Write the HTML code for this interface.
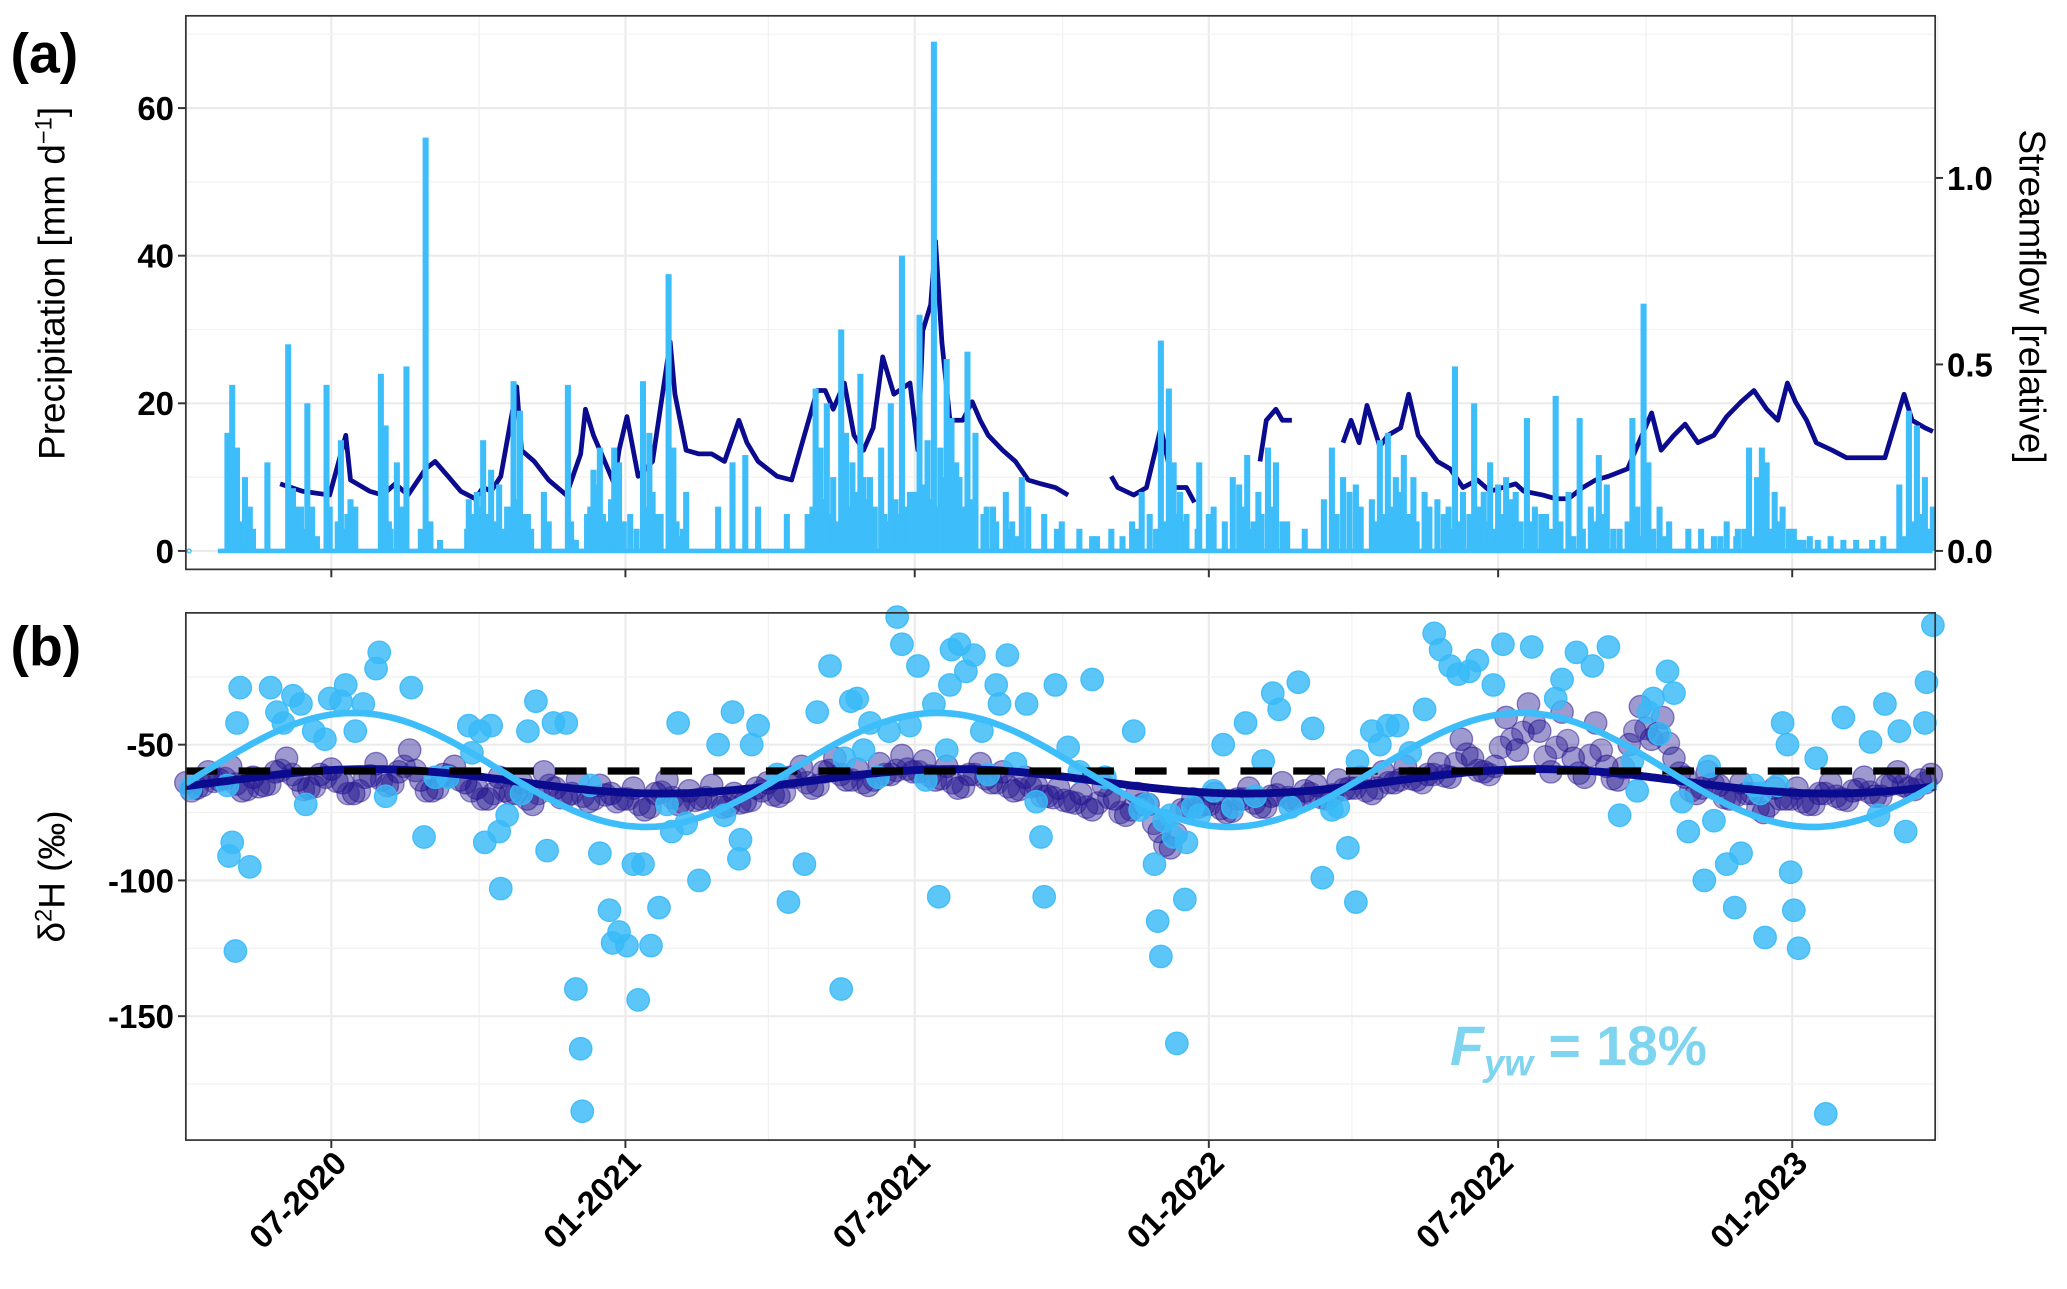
<!DOCTYPE html>
<html><head><meta charset="utf-8"><style>
html,body{margin:0;padding:0;background:#fff;}
svg{display:block;font-family:"Liberation Sans",Arial,sans-serif;}
</style></head><body>
<svg id="chart" width="2067" height="1289" viewBox="0 0 1568 978" preserveAspectRatio="none" xmlns="http://www.w3.org/2000/svg">
<rect width="1568" height="978" fill="#fff"/>
<g id="gA"></g>
<g id="gB"></g>
</svg>
<script>
// ---- data ----
const xTickDays = [91, 275, 456, 640, 821, 1005];
const xTickLabels = ["07-2020","01-2021","07-2021","01-2022","07-2022","01-2023"];
const precipTicks = [0,20,40,60];
const flowTicks = [0.0,0.5,1.0];
const flowTickLabels = ["0.0","0.5","1.0"];
const isoTicks = [-50,-100,-150];
const precipDays = [26,29,32,37,40,51,64,67,72,76,79,88,97,103,106,122,125,132,138,150,159,177,179,182,186,191,196,201,205,209,214,224,227,239,244,251,255,259,263,268,271,278,286,290,295,302,305,309,313,333,342,350,358,376,389,394,397,401,405,410,413,417,422,428,435,441,448,453,459,464,468,472,476,479,484,489,494,501,507,513,517,523,527,537,548,559,567,579,592,598,603,610,615,618,622,626,634,643,655,659,664,671,677,682,689,700,717,724,732,742,747,752,757,762,768,775,783,790,794,799,806,812,816,821,826,832,839,842,851,857,865,872,879,884,889,897,905,908,912,915,922,928,940,948,956,964,971,978,983,986,989,994,999,1006,1016,1029,1037,1045,1055,1062,1072,1078,1083,1088,1093];
const precipVals = [16,22.5,14,10,6,12,28,8.5,6,20,6,22.5,15,7,6,24,17,12,25,56,1.5,7,4,8,15,11,9,6,23,19,5,8,4,22.5,1.5,5,11,14,4,14,12,5,23,16,5,37.5,14,2,8,6,12,13,6,5,5,22,14,20,10,30,16,12,24,10,14,20,40,8,32,15,69,14,26,18,10,27,16,6,4,8,4,10,6,5,4,3,2,3,4,8,5,28.5,22,12,8,5,12,6,10,9,13,8,14,12,4,3,14,10,9,7,15,16,10,13,10,8,7,6,25,8,20,8,12,9,10,8,18,4,5,21,8,18,6,13,9,3,18,6,33.5,12,6,4,3,3,2,4,3,14,10,14,12,8,6,3,2,2,1.5,1.5,1.5,2,9,19,17,10,6];
const minorDays = [27,30,34,35,42,65,69,70,74,78,82,90,95,99,101,123,127,128,135,147,153,176,180,184,188,193,198,203,207,212,216,241,253,257,261,266,274,282,288,292,297,304,307,311,392,396,399,403,407,412,415,419,420,424,426,431,437,439,444,446,451,456,461,466,470,474,478,482,487,491,499,505,515,520,545,570,586,595,607,612,617,620,624,633,640,650,662,666,668,673,680,686,712,720,728,735,744,749,755,760,765,770,778,787,792,796,803,809,814,819,824,829,835,844,848,854,860,868,874,882,887,893,902,910,918,925,960,970,975,980,985,991,997,1003,1009,1012,1021,1075,1080,1085,1090];
const minorVals = [5,6,4,3,3,5,6,4,3,4,2,6,4,3,5,5,4,3,6,3,4,3,5,6,5,4,3,6,7,5,3,4,6,9,5,7,4,3,6,8,5,7,4,3,6,8,7,5,4,9,6,8,5,10,7,6,5,4,7,5,6,8,9,7,6,10,8,12,6,7,5,6,3,2,3,2,2,3,3,4,6,5,4,3,5,4,6,3,4,5,6,4,7,5,8,6,4,5,6,8,5,4,6,5,3,4,5,6,4,3,5,7,4,6,5,3,4,2,3,4,5,3,4,2,3,2,2,2,3,2,1.5,3,4,3,1.5,1.5,1.5,2,4,5,3];
const flowDays = [59,73,90,100,103,115,123,131,139,150,156,164,172,181,186,191,197,207,210,218,227,238,247,250,255,260,268,271,276,283,292,303,306,313,321,329,337,346,351,358,370,379,395,400,405,412,418,424,430,436,443,453,458,461,466,469,473,478,486,492,497,502,511,519,527,535,544,552,null,557,null,579,583,593,601,610,618,626,631,null,672,676,682,686,692,null,696,null,724,729,734,739,747,752,760,765,771,783,791,799,808,816,824,832,837,849,857,865,874,882,890,902,907,917,923,931,938,946,956,964,973,981,989,996,1002,1007,1014,1020,1030,1039,1055,1063,1075,1080,1088,1093];
const flowVals = [.18,.16,.15,.31,.19,.16,.15,.18,.15,.22,.24,.2,.16,.14,.17,.16,.2,.44,.27,.24,.19,.15,.26,.38,.31,.26,.18,.27,.36,.2,.24,.56,.42,.27,.26,.26,.24,.35,.29,.24,.2,.19,.43,.43,.38,.45,.31,.27,.33,.52,.42,.45,.27,.59,.66,.83,.56,.35,.35,.4,.35,.31,.27,.24,.19,.18,.17,.15,null,.14,null,.2,.17,.15,.17,.33,.17,.17,.13,null,.24,.35,.38,.35,.35,null,.34,null,.29,.35,.29,.39,.28,.31,.33,.42,.31,.24,.22,.17,.19,.16,.17,.18,.16,.15,.14,.14,.17,.19,.2,.22,.27,.37,.27,.31,.34,.29,.31,.36,.4,.43,.38,.35,.45,.4,.35,.29,.27,.25,.25,.25,.42,.35,.33,.32];
const pIsoDays = [3,26,27,29,31,32,34,40,53,57,61,67,72,75,80,87,90,97,100,106,111,119,121,125,141,149,156,164,177,179,184,187,191,196,197,201,210,214,219,226,230,238,244,247,248,253,259,265,267,271,276,280,283,286,291,296,301,304,308,313,321,333,337,342,346,347,354,358,370,377,387,395,403,410,412,416,420,424,428,433,440,445,448,453,458,463,468,471,476,478,479,484,488,493,498,502,507,509,514,519,526,532,535,537,544,552,559,567,575,593,597,601,606,608,610,612,616,618,620,625,626,630,634,643,649,655,663,669,674,680,684,691,696,705,711,717,721,727,732,733,742,747,752,758,766,775,781,785,791,796,803,808,818,824,842,857,861,870,880,890,897,905,908,915,918,922,927,931,936,940,950,953,956,964,969,973,981,985,988,996,999,1002,1004,1006,1009,1020,1026,1037,1054,1059,1063,1072,1076,1088,1089,1093];
const pIsoVals = [-66,-65,-91,-86,-126,-42,-29,-95,-29,-38,-42,-32,-35,-72,-45,-48,-33,-34,-28,-45,-35,-22,-16,-69,-29,-84,-62,-62,-43,-53,-45,-86,-43,-82,-103,-76,-68,-45,-34,-89,-42,-42,-140,-162,-185,-65,-90,-111,-123,-119,-124,-94,-144,-94,-124,-110,-72,-82,-42,-79,-100,-50,-76,-38,-92,-85,-50,-43,-61,-108,-94,-38,-21,-140,-55,-34,-33,-52,-42,-62,-45,-3,-13,-43,-21,-63,-35,-106,-52,-28,-15,-13,-23,-17,-45,-61,-28,-35,-17,-57,-35,-71,-84,-106,-28,-51,-60,-26,-62,-45,-74,-72,-94,-115,-128,-78,-76,-84,-160,-107,-86,-73,-76,-67,-50,-73,-42,-69,-56,-31,-37,-73,-27,-44,-99,-74,-73,-88,-108,-56,-45,-50,-43,-43,-53,-37,-9,-15,-21,-24,-23,-19,-28,-13,-14,-33,-26,-16,-21,-14,-76,-56,-67,-38,-33,-46,-23,-31,-71,-82,-100,-58,-78,-94,-110,-90,-65,-68,-121,-65,-42,-50,-97,-111,-125,-55,-186,-40,-49,-76,-35,-45,-82,-42,-27,-6];
const sIsoStart = 0;
const sIsoStep = 7;
const sIsoVals = [-64,-66,-60,-63,-58,-67,-62,-65,-60,-55,-63,-66,-61,
-59,-64,-68,-62,-57,-65,-60,-52,-63,-67,-61,-58,-64,
-66,-70,-62,-68,-64,-72,-60,-66,-69,-63,-71,-65,-68,
-70,-66,-74,-68,-63,-72,-67,-70,-65,-73,-68,-71,-66,
-64,-69,-62,-58,-66,-60,-55,-63,-59,-65,-57,-61,-54,
-60,-56,-63,-58,-66,-61,-57,-64,-60,-67,-62,-65,-69,
-66,-71,-68,-74,-65,-70,-76,-68,-72,-82,-88,-74,-70,
-72,-68,-75,-70,-66,-73,-69,-64,-71,-67,-65,-70,-63,
-66,-62,-68,-60,-64,-58,-63,-61,-57,-62,-48,-55,-60,
-58,-40,-52,-35,-45,-60,-38,-55,-62,-42,-58,-63,-50,
-36,-48,-40,-55,-62,-68,-60,-65,-70,-64,-68,-75,-66,
-70,-66,-72,-68,-64,-70,-67,-62,-69,-65,-60,-66,-63,-61];
// seasonal fits: [mean, amplitude, peak day]
const precipFit = [-59.3, 21, 105];
const streamFit = [-63.5, 4.5, 115];
const meanLine = [-59.7];

// ---- axes ----
const NS="http://www.w3.org/2000/svg";
const L=141,R=1468,aT=12,aB=432,bT=465,bB=865;
const x=d=>L+d*1.2125;
const yP=v=>418-v*5.6;
const yQ=v=>418-v*283;
const yI=v=>565-(v+50)*2.06;
function el(tag,attrs,parent){const e=document.createElementNS(NS,tag);for(const k in attrs)e.setAttribute(k,attrs[k]);parent.appendChild(e);return e;}
const gA=document.getElementById('gA'), gB=document.getElementById('gB');
const LB="#3dbdf9", DK="#0b0b8f";

function grid(g,top,bot,hY,hMinor){
  for(let i=0;i<xTickDays.length;i++){
    el('line',{x1:x(xTickDays[i]),x2:x(xTickDays[i]),y1:top,y2:bot,stroke:'#ebebeb','stroke-width':1.6},g);
    el('line',{x1:x(xTickDays[i]-91.5),x2:x(xTickDays[i]-91.5),y1:top,y2:bot,stroke:'#f2f2f2','stroke-width':1},g);
  }
  el('line',{x1:x(xTickDays[5]+91),x2:x(xTickDays[5]+91),y1:top,y2:bot,stroke:'#f2f2f2','stroke-width':1},g);
  hMinor.forEach(y=>el('line',{x1:L,x2:R,y1:y,y2:y,stroke:'#f2f2f2','stroke-width':1},g));
  hY.forEach(y=>el('line',{x1:L,x2:R,y1:y,y2:y,stroke:'#ebebeb','stroke-width':1.6},g));
}
grid(gA,aT,aB,precipTicks.map(yP),[10,30,50,70].map(yP));
grid(gB,bT,bB,isoTicks.map(yI),[-25,-75,-125,-175].map(yI));

// panel a: precipitation bars
el('line',{x1:x(20),x2:R-2,y1:418,y2:418,stroke:LB,'stroke-width':3.5},gA);
el('circle',{cx:x(2),cy:418,r:1.5,fill:'none',stroke:LB,'stroke-width':1},gA);
function bars(days,vals){
  for(let i=0;i<days.length;i++){
    const r=el('rect',{x:x(days[i])-2.3,y:yP(vals[i]),width:4.6,height:418-yP(vals[i]),fill:LB},gA);
    
    
  }
}
bars(minorDays,minorVals);
// streamflow line
let d="",pen=false;
for(let i=0;i<flowDays.length;i++){
  if(flowDays[i]===null){pen=false;continue;}
  d+=(pen?"L":"M")+x(flowDays[i]).toFixed(1)+","+yQ(flowVals[i]).toFixed(1);pen=true;
}
const fl=el('path',{d:d,fill:'none',stroke:DK,'stroke-width':3.6,'stroke-linejoin':'round'},gA);


bars(precipDays,precipVals);

// panel b
for(let i=0;i<sIsoVals.length;i++){
  const c=el('circle',{cx:x(sIsoStart+i*sIsoStep),cy:yI(sIsoVals[i]),r:8.5,fill:'rgba(25,12,140,0.42)',stroke:'rgba(50,30,150,0.55)','stroke-width':1},gB);
  
  
}
for(let i=0;i<sIsoVals.length-1;i++){
  const c=el('circle',{cx:x(sIsoStart+i*sIsoStep+3.5),cy:yI((sIsoVals[i]+sIsoVals[i+1])/2-2),r:8.5,fill:'rgba(25,12,140,0.38)',stroke:'rgba(50,30,150,0.5)','stroke-width':1},gB);
  
  
}
for(let i=0;i<pIsoDays.length;i++){
  const c=el('circle',{cx:x(pIsoDays[i]),cy:yI(pIsoVals[i]),r:8.5,fill:'rgba(56,185,248,0.82)',stroke:'rgba(56,185,248,0.9)','stroke-width':1},gB);
  
  
}
function fitPath(p){let s="";for(let dd=0;dd<=1095;dd+=3){const v=p[0]+p[1]*Math.cos(2*Math.PI*(dd-p[2])/365.25);s+=(dd?"L":"M")+x(dd).toFixed(1)+","+yI(v).toFixed(1);}return s;}
const sf=el('path',{d:fitPath(streamFit),fill:'none',stroke:DK,'stroke-width':6},gB);


const ml=el('line',{x1:L,x2:R,y1:yI(meanLine[0]),y2:yI(meanLine[0]),stroke:'#000','stroke-width':5.5,'stroke-dasharray':'24 16'},gB);


const pf=el('path',{d:fitPath(precipFit),fill:'none',stroke:LB,'stroke-width':5},gB);



// frames & ticks
const svg=document.getElementById('chart');
[[aT,aB],[bT,bB]].forEach(([t,b])=>{
  el('rect',{x:L,y:t,width:R-L,height:b-t,fill:'none',stroke:'#333','stroke-width':1.3},svg);
  xTickDays.forEach(dd=>el('line',{x1:x(dd),x2:x(dd),y1:b,y2:b+6,stroke:'#333','stroke-width':1.5},svg));
});
function txt(s,attrs,name){const t=el('text',attrs,svg);t.textContent=s;return t;}
precipTicks.forEach(v=>{el('line',{x1:L-6,x2:L,y1:yP(v),y2:yP(v),stroke:'#333','stroke-width':1.5},svg);txt(String(v),{x:L-9,y:yP(v)+9,'text-anchor':'end','font-size':25,'font-weight':'bold'},'y-tick-label');});
flowTicks.forEach((v,i)=>{el('line',{x1:R,x2:R+6,y1:yQ(v),y2:yQ(v),stroke:'#333','stroke-width':1.5},svg);txt(flowTickLabels[i],{x:R+9,y:yQ(v)+9,'font-size':25,'font-weight':'bold'},'y2-tick-label');});
isoTicks.forEach(v=>{el('line',{x1:L-6,x2:L,y1:yI(v),y2:yI(v),stroke:'#333','stroke-width':1.5},svg);txt(String(v),{x:L-9,y:yI(v)+9,'text-anchor':'end','font-size':25,'font-weight':'bold'},'y-tick-label');});
xTickDays.forEach((dd,i)=>txt(xTickLabels[i],{x:x(dd)+13,y:bB+19,'text-anchor':'end','font-size':25,'font-weight':'bold',transform:`rotate(-45 ${x(dd)+13} ${bB+19})`},'x-tick-label'));
txt("(a)",{x:8,y:55,'font-size':42,'font-weight':'bold'},'panel-a-label');
txt("(b)",{x:8,y:505,'font-size':42,'font-weight':'bold'},'panel-b-label');
const yl=txt("",{x:49,y:215,'text-anchor':'middle','font-size':28,transform:'rotate(-90 49 215)'},'precip-axis-title');
yl.innerHTML='Precipitation  [mm d<tspan baseline-shift="super" font-size="18">−1</tspan>]';
txt("Streamflow  [relative]",{x:1532,y:225,'text-anchor':'middle','font-size':28,transform:'rotate(90 1532 225)'},'streamflow-axis-title');
const il=txt("",{x:49,y:665,'text-anchor':'middle','font-size':28,transform:'rotate(-90 49 665)'},'isotope-axis-title');
il.innerHTML='δ<tspan baseline-shift="super" font-size="18">2</tspan>H (‰)';
const fy=txt("",{x:1100,y:808,'font-size':42,'font-weight':'bold',fill:'#7fd4f0'},'fyw-annotation');
fy.innerHTML='<tspan font-style="italic">F</tspan><tspan font-style="italic" font-size="28" dy="8">yw</tspan><tspan dy="-8"> = 18%</tspan>';
</script>
</body></html>
